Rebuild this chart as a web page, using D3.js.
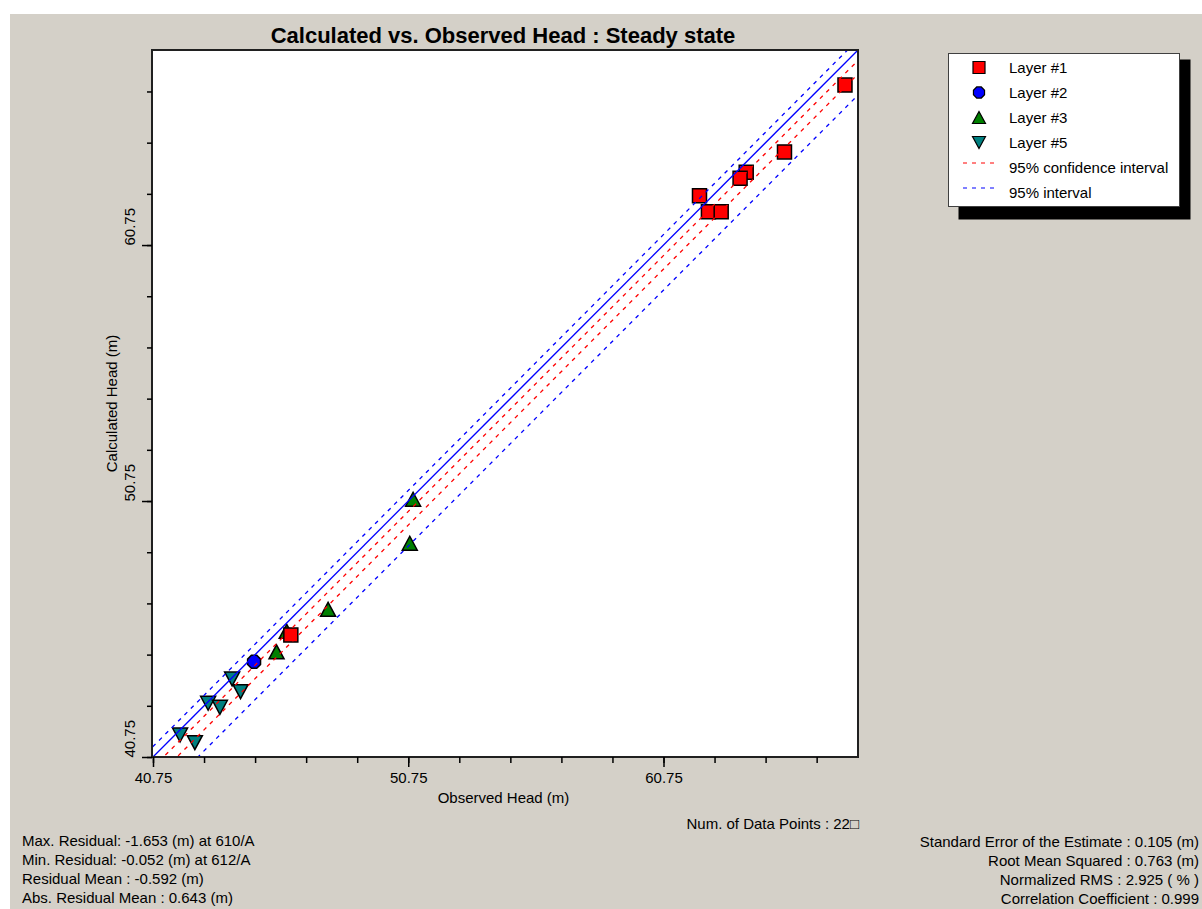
<!DOCTYPE html>
<html>
<head>
<meta charset="utf-8">
<script src="https://cdn.jsdelivr.net/npm/d3@7"></script>
<style>
  body { margin: 0; background: #ffffff; }
  svg { display: block; font-family: "Liberation Sans", Arial, sans-serif; }
</style>
</head>
<body>
<svg id="chart" width="1202" height="909"></svg>
<script>
// ---- Observed vs. calculated heads (m), per model layer ----
const layer1Observed   = [67.86, 65.49, 63.99, 63.75, 62.16, 62.51, 63.01, 46.15];
const layer1Calculated = [67.00, 64.39, 63.59, 63.36, 62.68, 62.05, 62.05, 45.52];

const layer2Observed   = [44.71];
const layer2Calculated = [44.47];

const layer3Observed   = [50.94, 50.81, 47.61, 45.59, 45.99];
const layer3Calculated = [50.82, 49.10, 46.52, 44.86, 45.66];

const layer5Observed   = [41.81, 42.39, 42.91, 43.37, 43.85, 44.18];
const layer5Calculated = [41.61, 41.31, 42.85, 42.69, 43.80, 43.30];

// Interval lines, as intercepts of lines parallel to the 1:1 line (calc = obs + c)
const confidenceIntercepts = [-0.41, -0.94];   // 95% confidence interval
const predictionIntercepts = [0.41, -1.76];    // 95% interval

// Axis ticks
const majorTicks = [40.75, 50.75, 60.75];
const minorTicks = [40.75, 42.75, 44.75, 46.75, 48.75, 50.75, 52.75, 54.75, 56.75,
                    58.75, 60.75, 62.75, 64.75, 66.75];
const headDomain = [40.75, 68.37];

// Legend and statistics text
const legendLabels = ["Layer #1", "Layer #2", "Layer #3", "Layer #5",
                      "95% confidence interval", "95% interval"];
const statsLeft = [
  "Max. Residual: -1.653 (m) at 610/A",
  "Min. Residual: -0.052 (m) at 612/A",
  "Residual Mean : -0.592 (m)",
  "Abs. Residual Mean : 0.643 (m)"
];
const statsRight = [
  "Standard Error of the Estimate : 0.105 (m)",
  "Root Mean Squared : 0.763 (m)",
  "Normalized RMS : 2.925 ( % )",
  "Correlation Coefficient : 0.999"
];
const numPointsLabel = "Num. of Data Points : 22\u25A1";

// ---- Layout ----
const svg = d3.select("#chart");
const W = 1202, H = 909;
const plot = { left: 153, top: 50, right: 858, bottom: 757 };
const panelFill = "#d4d0c8";
const fontAxis = "15px";
const fontStats = "15px";

svg.append("rect").attr("x", 10).attr("y", 14).attr("width", W - 10).attr("height", H - 14)
  .attr("fill", panelFill);

const x = d3.scaleLinear().domain(headDomain).range([plot.left, plot.right]);
const y = d3.scaleLinear().domain(headDomain).range([plot.bottom, plot.top]);

// Plot area background
svg.append("rect")
  .attr("x", plot.left).attr("y", plot.top)
  .attr("width", plot.right - plot.left).attr("height", plot.bottom - plot.top)
  .attr("fill", "#ffffff");

svg.append("clipPath").attr("id", "plotClip")
  .append("rect")
  .attr("x", plot.left).attr("y", plot.top)
  .attr("width", plot.right - plot.left).attr("height", plot.bottom - plot.top);

// ---- Markers ----
const markers = svg.append("g").attr("clip-path", "url(#plotClip)");

function squarePath(s) { const h = s / 2; return `M${-h},${-h}H${h}V${h}H${-h}Z`; }
function trianglePath(w, h, down) {
  const a = down ? h / 2 : -h / 2, b = down ? -h / 2 : h / 2;
  return `M0,${a}L${w / 2},${b}L${-w / 2},${b}Z`;
}
function octagonPath(d) {
  const r = d / 2, pts = [];
  for (let i = 0; i < 8; i++) {
    const t = Math.PI / 8 + i * Math.PI / 4;
    pts.push([r * Math.cos(t), r * Math.sin(t)]);
  }
  return "M" + pts.map(p => p.join(",")).join("L") + "Z";
}

const layers = [
  { obs: layer3Observed, calc: layer3Calculated, path: trianglePath(15, 14, false), fill: "#008000" },
  { obs: layer5Observed, calc: layer5Calculated, path: trianglePath(15, 14, true),  fill: "#008080" },
  { obs: layer2Observed, calc: layer2Calculated, path: octagonPath(14),             fill: "#0000ff" },
  { obs: layer1Observed, calc: layer1Calculated, path: squarePath(14),              fill: "#ff0000" }
];

layers.forEach(l => {
  markers.selectAll(null)
    .data(l.obs.map((o, i) => [o, l.calc[i]]))
    .join("path")
    .attr("class", "marker")
    .attr("d", l.path)
    .attr("transform", d => `translate(${x(d[0])},${y(d[1])})`)
    .attr("fill", l.fill)
    .attr("stroke", "#000")
    .attr("stroke-width", 1.5)
    .attr("stroke-linejoin", "miter");
});

// ---- 1:1 line and interval lines ----
const lines = svg.append("g").attr("clip-path", "url(#plotClip)");
const lineGen = d3.line().x(d => x(d[0])).y(d => y(d[1]));
const ends = [headDomain[0] - 3, headDomain[1] + 3];

function drawOffsetLine(c, color, dash) {
  const p = lines.append("path")
    .attr("class", "refline")
    .attr("d", lineGen(ends.map(v => [v, v + c])))
    .attr("fill", "none")
    .attr("stroke", color)
    .attr("stroke-width", 1.3);
  if (dash) p.attr("stroke-dasharray", dash);
}
drawOffsetLine(0, "#0000ff", null);
confidenceIntercepts.forEach(c => drawOffsetLine(c, "#ff0000", "4,5"));
predictionIntercepts.forEach(c => drawOffsetLine(c, "#0000ff", "4,5"));

// ---- Frame ----
svg.append("rect")
  .attr("x", plot.left - 1).attr("y", plot.top)
  .attr("width", plot.right - plot.left + 1).attr("height", plot.bottom - plot.top)
  .attr("fill", "none").attr("stroke", "#202020").attr("stroke-width", 2);

// ---- Axes ----
const xMinor = svg.append("g").attr("transform", `translate(0,${plot.bottom})`)
  .call(d3.axisBottom(x).tickValues(minorTicks).tickSize(6).tickFormat(""));
const xMajor = svg.append("g").attr("transform", `translate(0,${plot.bottom})`)
  .call(d3.axisBottom(x).tickValues(majorTicks).tickSize(10).tickPadding(5)
        .tickFormat(d3.format(".2f")));
const yMinor = svg.append("g").attr("transform", `translate(${plot.left - 1},0)`)
  .call(d3.axisLeft(y).tickValues(minorTicks).tickSize(5).tickFormat(""));
const yMajor = svg.append("g").attr("transform", `translate(${plot.left - 1},0)`)
  .call(d3.axisLeft(y).tickValues(majorTicks).tickSize(10).tickFormat(d3.format(".2f")));

[xMinor, xMajor, yMinor, yMajor].forEach(g => {
  g.select(".domain").remove();
  g.selectAll("line").attr("stroke", "#000").attr("stroke-width", 1.5);
  g.selectAll("text").attr("fill", "#000").style("font-size", fontAxis)
    .style("font-family", "'Liberation Sans', Arial, sans-serif");
});
yMajor.selectAll("text")
  .attr("transform", "rotate(-90)")
  .attr("x", 0).attr("y", -17).attr("dy", 0)
  .attr("text-anchor", "start");

// Axis titles
svg.append("text")
  .attr("x", (plot.left + plot.right) / 2 - 2).attr("y", 803)
  .attr("text-anchor", "middle").style("font-size", fontAxis)
  .text("Observed Head (m)");
svg.append("text")
  .attr("transform", `translate(117,${(plot.top + plot.bottom) / 2}) rotate(-90)`)
  .attr("text-anchor", "middle").style("font-size", fontAxis)
  .text("Calculated Head (m)");

svg.append("text")
  .attr("x", 859).attr("y", 829)
  .attr("text-anchor", "end").style("font-size", fontAxis)
  .text(numPointsLabel);

// Title
svg.append("text")
  .attr("x", 503).attr("y", 43)
  .attr("text-anchor", "middle")
  .style("font-size", "22px").style("font-weight", "bold")
  .text("Calculated vs. Observed Head : Steady state");

// ---- Legend ----
const legend = svg.append("g");
const lg = { x: 948.5, y: 53.5, w: 231, h: 153 };
legend.append("rect").attr("x", lg.x + 10).attr("y", lg.y + 6)
  .attr("width", lg.w + 1).attr("height", lg.h + 7).attr("fill", "#000");
legend.append("rect").attr("x", lg.x).attr("y", lg.y)
  .attr("width", lg.w).attr("height", lg.h)
  .attr("fill", "#ffffff").attr("stroke", "#404040").attr("stroke-width", 1);

const legendSymbols = [
  { path: squarePath(12), fill: "#ff0000" },
  { path: octagonPath(12), fill: "#0000ff" },
  { path: trianglePath(13, 12, false), fill: "#008000" },
  { path: trianglePath(13, 12, true), fill: "#008080" },
  { line: "#ff0000" },
  { line: "#0000ff" }
];
legendLabels.forEach((label, i) => {
  const cy = 67.5 + i * 25;
  const s = legendSymbols[i];
  if (s.path) {
    legend.append("path").attr("d", s.path)
      .attr("transform", `translate(979,${cy})`)
      .attr("fill", s.fill).attr("stroke", "#000").attr("stroke-width", 1.2);
  } else {
    legend.append("line").attr("x1", 963).attr("x2", 994)
      .attr("y1", cy - 4.5).attr("y2", cy - 4.5)
      .attr("stroke", s.line).attr("stroke-width", 1).attr("stroke-dasharray", "4,5");
  }
  legend.append("text").attr("x", 1009).attr("y", cy + 5)
    .style("font-size", fontAxis).text(label);
});

// ---- Statistics ----
const stats = svg.append("g").style("font-size", fontStats);
statsLeft.forEach((t, i) => {
  stats.append("text").attr("x", 22).attr("y", 846 + i * 19).text(t);
});
statsRight.forEach((t, i) => {
  stats.append("text").attr("x", 1199).attr("y", 847 + i * 19)
    .attr("text-anchor", "end").text(t);
});
</script>
</body>
</html>
